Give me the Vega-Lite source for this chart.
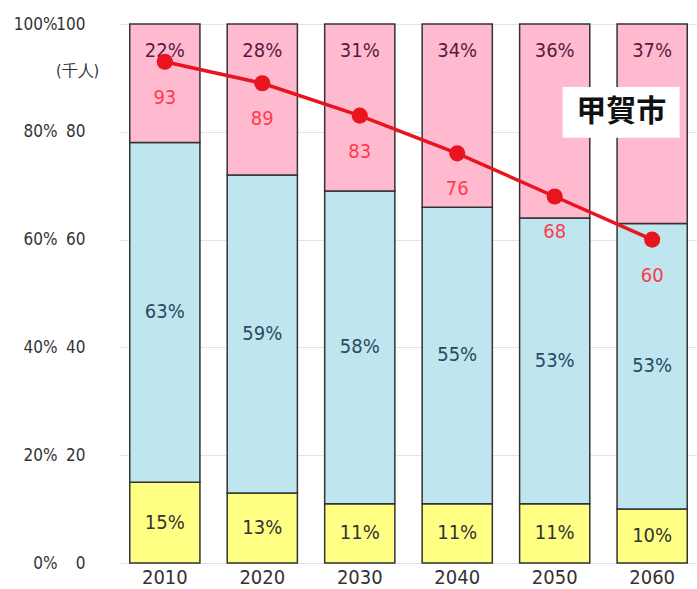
{
  "$schema": "https://vega.github.io/schema/vega-lite/v6.json",
  "autosize": {"type": "none"},
  "width": 577,
  "height": 539,
  "padding": {"left": 120, "top": 24, "right": 0, "bottom": 26},
  "background": "white",
  "config": {
    "view": {"stroke": null},
    "font": "DejaVu Sans Condensed, Liberation Sans Narrow, Liberation Sans",
    "axis": {"labelFont": "DejaVu Sans Condensed, Liberation Sans Narrow, Liberation Sans"}
  },
  "datasets": {
    "shares": [
      {"year": "2010", "group": "0-14歳", "pct": 15},
      {"year": "2010", "group": "15-64歳", "pct": 63},
      {"year": "2010", "group": "65歳以上", "pct": 22},
      {"year": "2020", "group": "0-14歳", "pct": 13},
      {"year": "2020", "group": "15-64歳", "pct": 59},
      {"year": "2020", "group": "65歳以上", "pct": 28},
      {"year": "2030", "group": "0-14歳", "pct": 11},
      {"year": "2030", "group": "15-64歳", "pct": 58},
      {"year": "2030", "group": "65歳以上", "pct": 31},
      {"year": "2040", "group": "0-14歳", "pct": 11},
      {"year": "2040", "group": "15-64歳", "pct": 55},
      {"year": "2040", "group": "65歳以上", "pct": 34},
      {"year": "2050", "group": "0-14歳", "pct": 11},
      {"year": "2050", "group": "15-64歳", "pct": 53},
      {"year": "2050", "group": "65歳以上", "pct": 36},
      {"year": "2060", "group": "0-14歳", "pct": 10},
      {"year": "2060", "group": "15-64歳", "pct": 53},
      {"year": "2060", "group": "65歳以上", "pct": 37}
    ],
    "population": [
      {"year": "2010", "pop": 93},
      {"year": "2020", "pop": 89},
      {"year": "2030", "pop": 83},
      {"year": "2040", "pop": 76},
      {"year": "2050", "pop": 68},
      {"year": "2060", "pop": 60}
    ],
    "city": [{"year": "2060", "name": "甲賀市"}]
  },
  "encoding": {
    "x": {
      "field": "year", "type": "nominal", "sort": null,
      "scale": {"paddingInner": 0.28, "paddingOuter": 0.1},
      "axis": {"title": null, "labelAngle": 0, "labelFontSize": 20, "labelColor": "#333", "ticks": false, "domain": false, "labelPadding": 4}
    }
  },
  "layer": [
    {
      "data": {"name": "shares"},
      "mark": {"type": "bar", "stroke": "#333", "strokeWidth": 1.5},
      "encoding": {
        "y": {
          "field": "pct", "type": "quantitative", "stack": "zero",
          "scale": {"domain": [0, 100], "nice": false},
          "axis": {
            "orient": "left",
            "title": null, "values": [0, 20, 40, 60, 80, 100],
            "labelExpr": "datum.value + '%'", "labelFontSize": 17, "labelColor": "#333",
            "offset": 55, "ticks": false, "domain": false, "labelPadding": 8,
            "grid": true, "gridColor": "#e3e3e3"
          }
        },
        "color": {
          "field": "group", "type": "nominal",
          "scale": {"domain": ["0-14歳", "15-64歳", "65歳以上"], "range": ["#ffff84", "#bfe6ef", "#ffbad0"]},
          "legend": null
        },
        "order": {"field": "group", "sort": "ascending"}
      }
    },
    {
      "data": {"name": "shares"},
      "transform": [
        {"stack": "pct", "groupby": ["year"], "sort": [{"field": "group", "order": "ascending"}], "as": ["y0", "y1"]},
        {"calculate": "datum.group === '65歳以上' ? 95 : (datum.y0 + datum.y1) / 2", "as": "ylab"},
        {"calculate": "datum.pct + '%'", "as": "lab"}
      ],
      "mark": {"type": "text", "fontSize": 20, "baseline": "middle"},
      "encoding": {
        "y": {"field": "ylab", "type": "quantitative"},
        "text": {"field": "lab"},
        "color": {
          "condition": [
            {"test": "datum.group === '65歳以上'", "value": "#5a1a3c"},
            {"test": "datum.group === '15-64歳'", "value": "#2a4a62"}
          ],
          "value": "#333333"
        }
      }
    },
    {
      "data": {"name": "population"},
      "mark": {"type": "line", "color": "#e8141e", "strokeWidth": 3.5},
      "encoding": {
        "y": {
          "field": "pop", "type": "quantitative",
          "axis": {
            "orient": "left",
            "title": "(千人)", "titleAngle": 0, "titleFontSize": 16, "titleFontWeight": "normal", "titleColor": "#333",
            "titleX": -16, "titleY": 46, "titleAlign": "center", "titleBaseline": "middle",
            "values": [0, 20, 40, 60, 80, 100], "labelFontSize": 17, "labelColor": "#333",
            "offset": 27, "ticks": false, "domain": false, "labelPadding": 8, "grid": false
          }
        }
      }
    },
    {
      "data": {"name": "population"},
      "mark": {"type": "point", "filled": true, "color": "#e8141e", "size": 260, "opacity": 1},
      "encoding": {"y": {"field": "pop", "type": "quantitative"}}
    },
    {
      "data": {"name": "population"},
      "mark": {"type": "text", "fontSize": 20, "color": "#ff3a4c", "dy": 36, "baseline": "middle"},
      "encoding": {"y": {"field": "pop", "type": "quantitative"}, "text": {"field": "pop"}}
    },
    {
      "data": {"name": "city"},
      "mark": {"type": "bar", "fill": "white", "width": 117, "xOffset": -31},
      "encoding": {"y": {"datum": 88.3, "type": "quantitative"}, "y2": {"datum": 78.9}}
    },
    {
      "data": {"name": "city"},
      "mark": {"type": "text", "fontSize": 30, "fontWeight": "bold", "color": "#111", "xOffset": -31, "baseline": "middle", "font": "Noto Sans CJK JP"},
      "encoding": {"y": {"datum": 83.6, "type": "quantitative"}, "text": {"field": "name"}}
    }
  ],
  "resolve": {"axis": {"y": "independent"}}
}
